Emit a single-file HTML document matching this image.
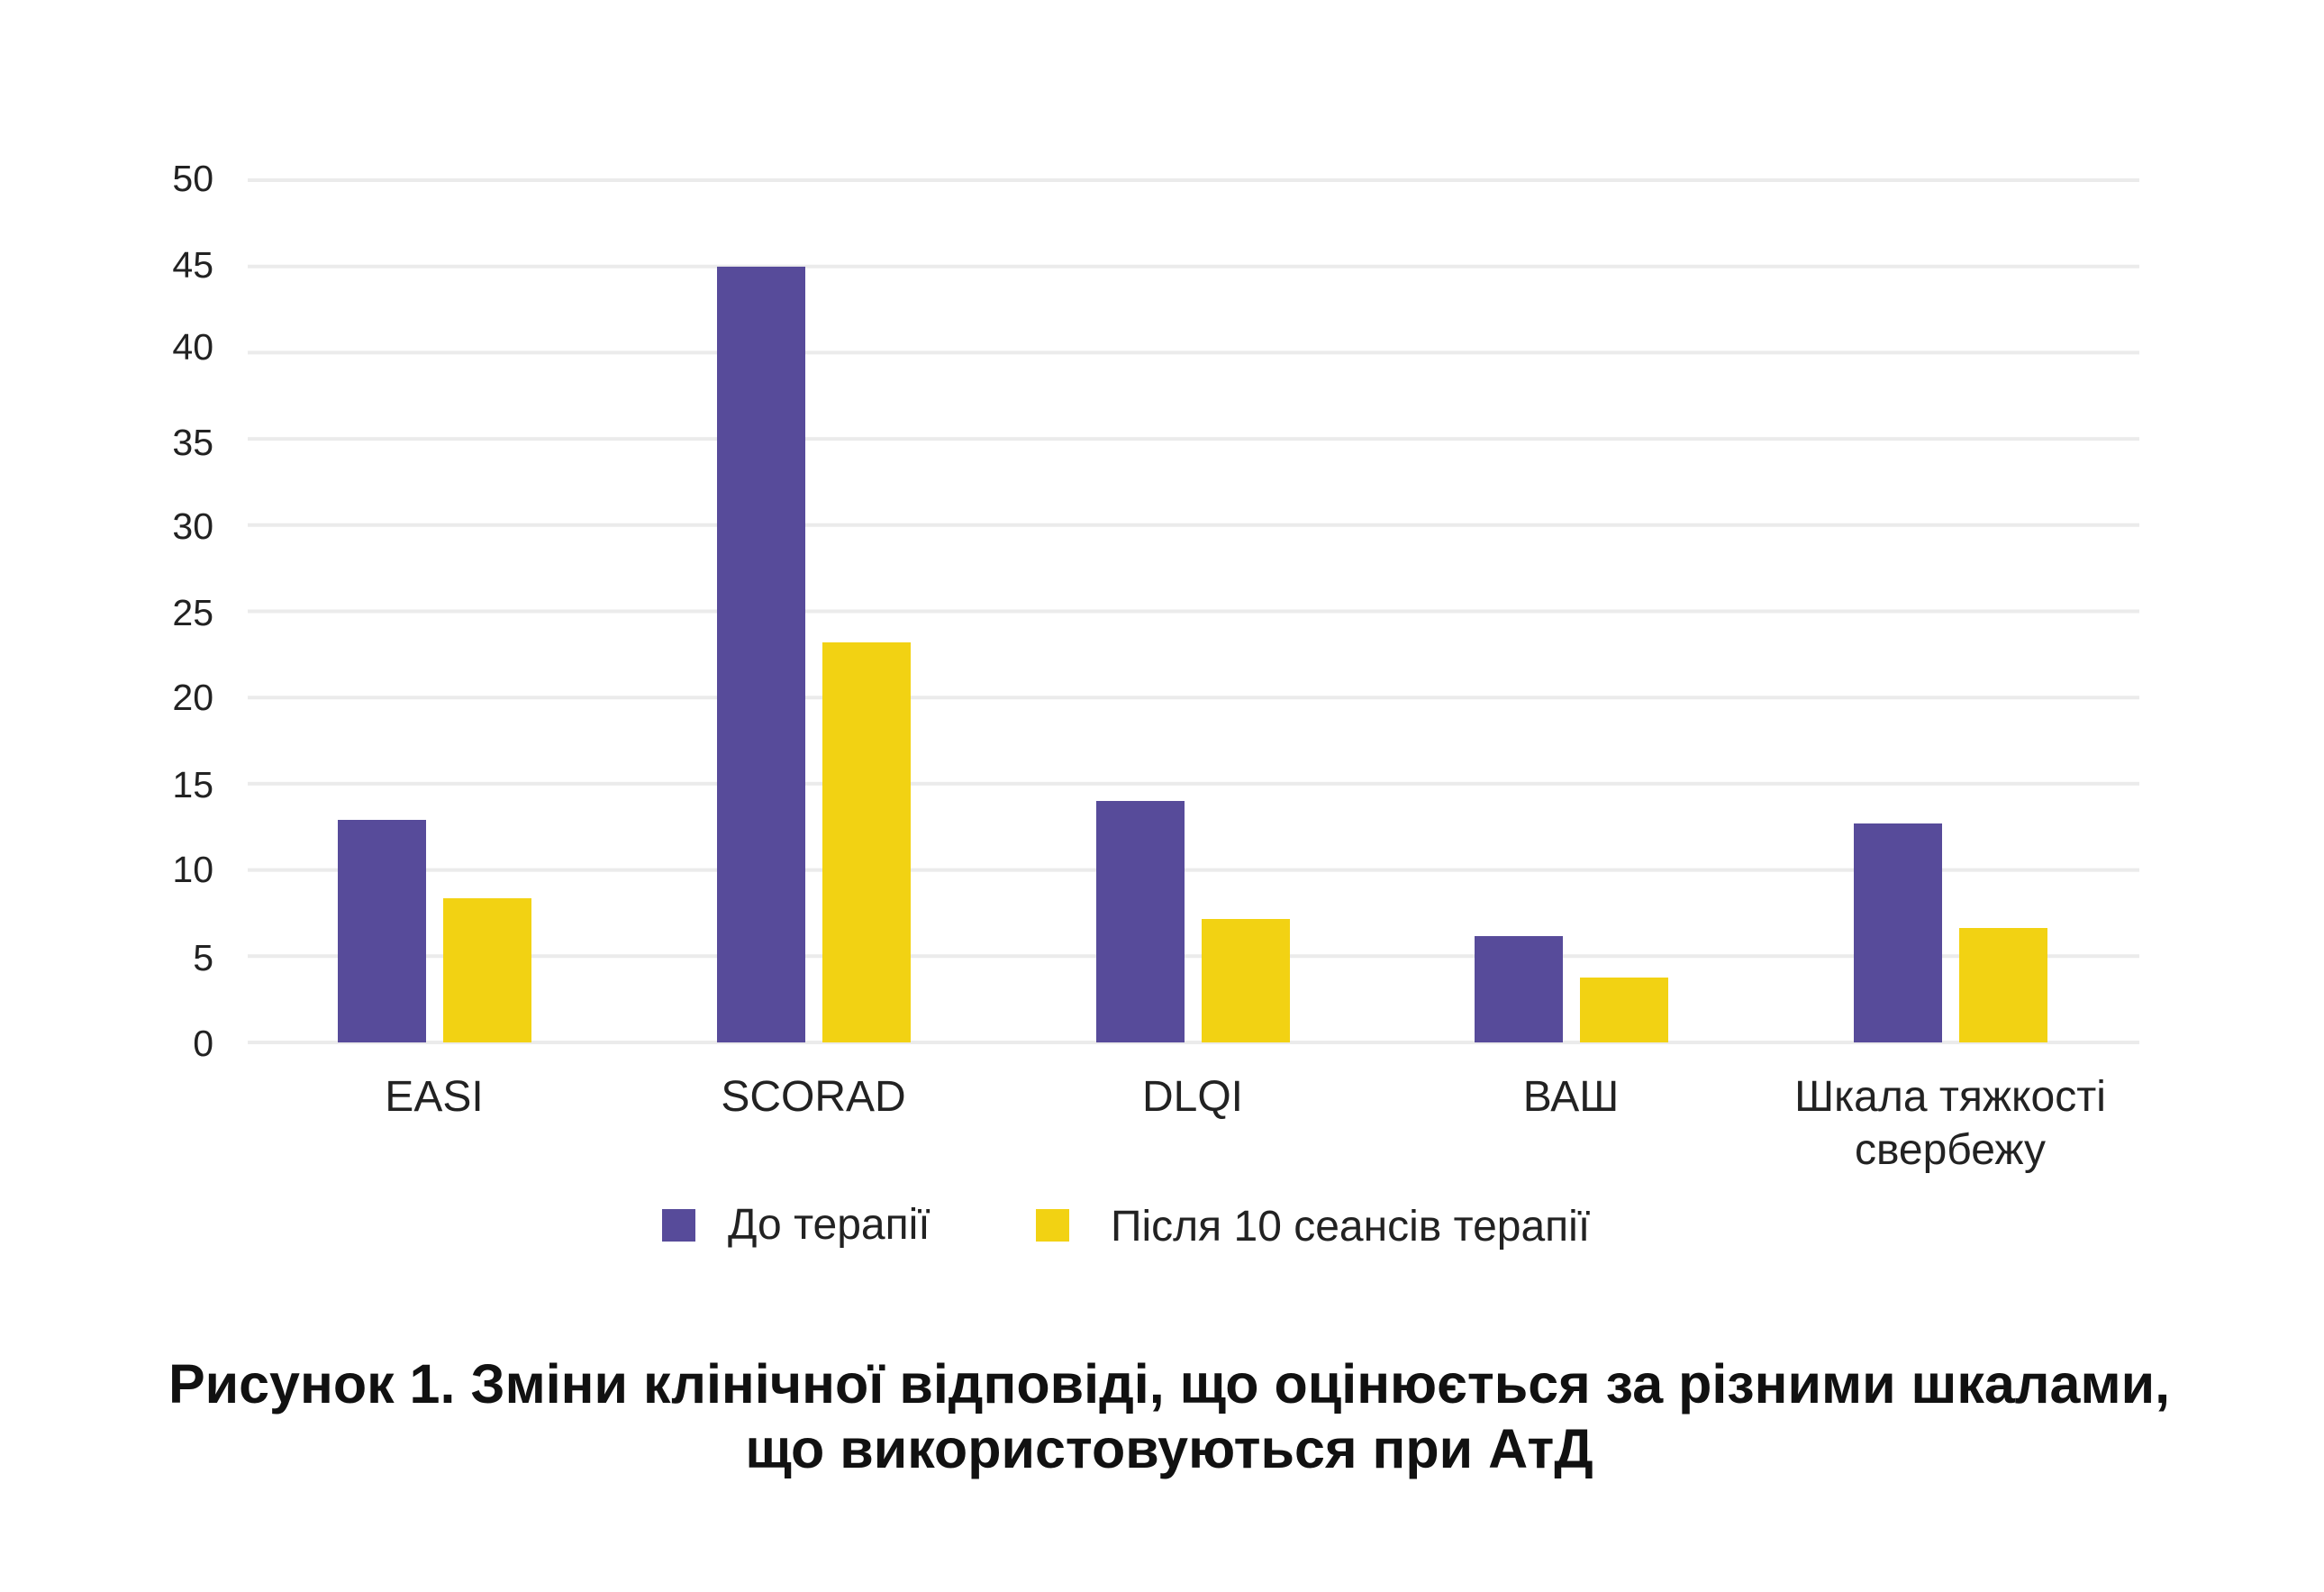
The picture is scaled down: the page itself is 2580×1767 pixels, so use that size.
<!DOCTYPE html>
<html><head><meta charset="utf-8"><style>
html,body{margin:0;padding:0;background:#fff;}
svg{display:block;}
text{font-family:"Liberation Sans","DejaVu Sans",sans-serif;}
</style></head><body>
<svg width="2580" height="1767" viewBox="0 0 2580 1767" xmlns="http://www.w3.org/2000/svg">
<rect width="2580" height="1767" fill="#fff"/>
<g stroke="#ebebeb" stroke-width="4">
<line x1="275" x2="2375" y1="200" y2="200"/>
<line x1="275" x2="2375" y1="295.7" y2="295.7"/>
<line x1="275" x2="2375" y1="391.4" y2="391.4"/>
<line x1="275" x2="2375" y1="487.1" y2="487.1"/>
<line x1="275" x2="2375" y1="582.8" y2="582.8"/>
<line x1="275" x2="2375" y1="678.5" y2="678.5"/>
<line x1="275" x2="2375" y1="774.2" y2="774.2"/>
<line x1="275" x2="2375" y1="869.9" y2="869.9"/>
<line x1="275" x2="2375" y1="965.6" y2="965.6"/>
<line x1="275" x2="2375" y1="1061.3" y2="1061.3"/>
<line x1="275" x2="2375" y1="1157" y2="1157"/>
</g>
<g font-size="41" fill="#222" text-anchor="end">
<text x="237" y="212">50</text>
<text x="237" y="308">45</text>
<text x="237" y="399">40</text>
<text x="237" y="505">35</text>
<text x="237" y="598">30</text>
<text x="237" y="694">25</text>
<text x="237" y="788">20</text>
<text x="237" y="885">15</text>
<text x="237" y="979">10</text>
<text x="237" y="1077">5</text>
<text x="237" y="1172">0</text>
</g>
<g fill="#574b9a">
<rect x="375" y="910" width="98" height="247"/>
<rect x="796" y="296" width="98" height="861"/>
<rect x="1217" y="889" width="98" height="268"/>
<rect x="1637" y="1039" width="98" height="118"/>
<rect x="2058" y="914" width="98" height="243"/>
</g>
<g fill="#f2d213">
<rect x="492" y="997" width="98" height="160"/>
<rect x="913" y="713" width="98" height="444"/>
<rect x="1334" y="1020" width="98" height="137"/>
<rect x="1754" y="1085" width="98" height="72"/>
<rect x="2175" y="1030" width="98" height="127"/>
</g>
<g font-size="48" fill="#222" text-anchor="middle">
<text x="482" y="1233">EASI</text>
<text x="903" y="1233">SCORAD</text>
<text x="1324" y="1233">DLQI</text>
<text x="1744" y="1233">ВАШ</text>
<text x="2165" y="1233">Шкала тяжкості</text>
<text x="2165" y="1292">свербежу</text>
</g>
<rect x="735" y="1342" width="37" height="36" fill="#574b9a"/>
<text x="808" y="1375" font-size="48" fill="#222">До терапії</text>
<rect x="1150" y="1342" width="37" height="36" fill="#f2d213"/>
<text x="1233" y="1377" font-size="48" fill="#222">Після 10 сеансів терапії</text>
<g font-size="61" font-weight="bold" fill="#111" text-anchor="middle">
<text x="1298" y="1557">Рисунок 1. Зміни клінічної відповіді, що оцінюється за різними шкалами,</text>
<text x="1298" y="1629">що використовуються при АтД</text>
</g>
</svg>
</body></html>
